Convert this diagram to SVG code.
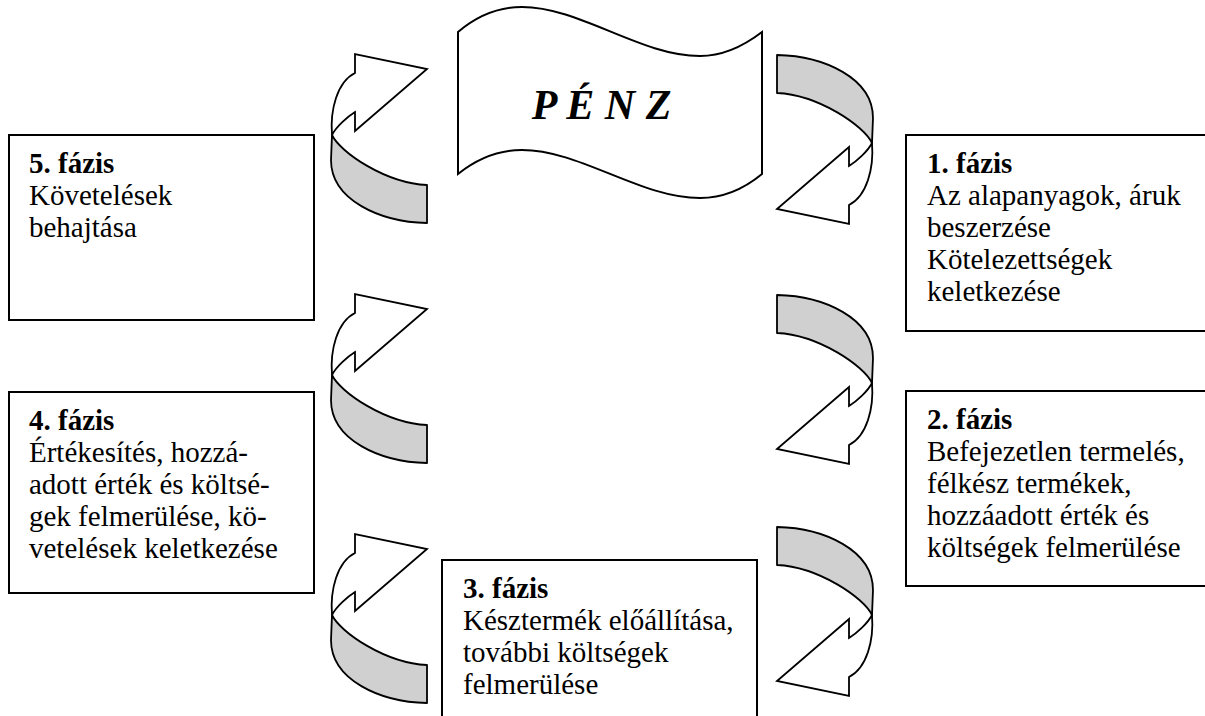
<svg xmlns="http://www.w3.org/2000/svg" xmlns:xlink="http://www.w3.org/1999/xlink" width="1205" height="716" viewBox="0 0 1205 716">
<style>
.box{fill:#fff;stroke:#000;stroke-width:2}
.banner{fill:#fff;stroke:#000;stroke-width:2}
.band{fill:#d0d0d0;stroke:#000;stroke-width:1.8;stroke-linejoin:round}
.wh{fill:#fff;stroke:#000;stroke-width:1.8;stroke-linejoin:miter}
text{font-family:"Liberation Serif","Times New Roman",serif;font-size:29px;fill:#000}
.h{font-weight:bold}
.penz{font-weight:bold;font-style:italic;font-size:42px}
</style>
<defs>
<g id="curl">
<path class="band" d="M332,135 C340,152 385,183 427,185 L427,223 C380,222 331,200 331,160 Z"/>
<path class="wh" d="M355,73 L355,54 L427,69 L355,131 L355,112 C347,117 336,127 332,135 C330,110 337,82 355,73 Z"/>
</g>
</defs>
<rect width="1205" height="716" fill="#fff"/>
<g id="banner">
<path class="banner" d="M458,32 C478,15 500,7 522,7 C580,7 640,56 700,56 C725,56 745,45 762,32 L762,174 C745,188 725,198 700,198 C640,198 580,150 522,150 C500,150 478,158 458,174 Z"/>
<text class="penz" x="601.5" y="119" text-anchor="middle">P É N Z</text>
</g>
<g id="phase5">
<rect class="box" x="9" y="135" width="305" height="185"/>
<text class="h" x="29" y="173">5. fázis</text>
<text x="29" y="205">Követelések</text>
<text x="29" y="237">behajtása</text>
</g>
<g id="phase1">
<rect class="box" x="906" y="135" width="310" height="196"/>
<text class="h" x="927" y="173">1. fázis</text>
<text x="927" y="205">Az alapanyagok, áruk</text>
<text x="927" y="237">beszerzése</text>
<text x="927" y="269">Kötelezettségek</text>
<text x="927" y="301">keletkezése</text>
</g>
<g id="phase2">
<rect class="box" x="906" y="391" width="310" height="195"/>
<text class="h" x="927" y="429">2. fázis</text>
<text x="927" y="461">Befejezetlen termelés,</text>
<text x="927" y="493">félkész termékek,</text>
<text x="927" y="525">hozzáadott érték és</text>
<text x="927" y="557">költségek felmerülése</text>
</g>
<g id="phase4">
<rect class="box" x="9" y="392" width="305" height="201"/>
<text class="h" x="29" y="430">4. fázis</text>
<text x="29" y="462">Értékesítés, hozzá-</text>
<text x="29" y="494">adott érték és költsé-</text>
<text x="29" y="526">gek felmerülése, kö-</text>
<text x="29" y="558">vetelések keletkezése</text>
</g>
<g id="phase3">
<rect class="box" x="442" y="560" width="315" height="180"/>
<text class="h" x="463" y="598">3. fázis</text>
<text x="463" y="630">Késztermék előállítása,</text>
<text x="463" y="662">további költségek</text>
<text x="463" y="694">felmerülése</text>
</g>
<g id="connectors">
<use xlink:href="#curl" href="#curl"/>
<use xlink:href="#curl" href="#curl" transform="translate(0,240)"/>
<use xlink:href="#curl" href="#curl" transform="translate(0,480)"/>
<use xlink:href="#curl" href="#curl" transform="rotate(180 602 139)"/>
<use xlink:href="#curl" href="#curl" transform="translate(0,240) rotate(180 602 139)"/>
<use xlink:href="#curl" href="#curl" transform="translate(0,472) rotate(180 602 139)"/>
</g>
</svg>
